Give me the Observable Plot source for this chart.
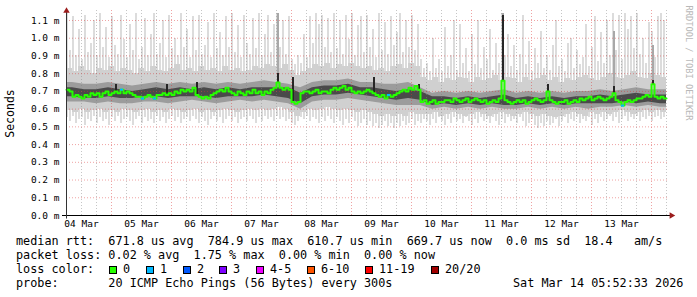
<!DOCTYPE html>
<html><head><meta charset="utf-8">
<script src="https://cdn.jsdelivr.net/npm/d3@7"></script>
<script src="https://cdn.jsdelivr.net/npm/@observablehq/plot@0.6"></script>
<style>body{margin:0;background:#fff} svg{display:block}</style>
</head><body><div id="chart"></div><script>
// ---- data (RTT in milliseconds) ----
const startTime = Date.UTC(2026, 2, 4, 6, 0, 0);   // left edge of graph
const spanMs = 10 * 24 * 3600 * 1000;               // 10 days shown
const yTicks = [0, 0.1, 0.2, 0.3, 0.4, 0.5, 0.6, 0.7, 0.8, 0.9, 1.0, 1.1];
const dayLabels = ["2026-03-04","2026-03-05","2026-03-06","2026-03-07","2026-03-08","2026-03-09","2026-03-10","2026-03-11","2026-03-12","2026-03-13"];

// median rtt, 200 samples
const medianMs = [
0.71,0.70,0.67,0.68,0.67,0.66,0.68,0.67,0.69,0.68,
0.69,0.67,0.69,0.70,0.68,0.69,0.70,0.69,0.71,0.69,
0.70,0.69,0.68,0.67,0.67,0.66,0.67,0.68,0.67,0.66,
0.68,0.68,0.69,0.68,0.69,0.68,0.70,0.69,0.71,0.70,
0.71,0.70,0.72,0.68,0.67,0.66,0.67,0.66,0.68,0.69,
0.70,0.71,0.70,0.72,0.70,0.69,0.68,0.70,0.69,0.68,
0.70,0.69,0.71,0.69,0.70,0.68,0.70,0.69,0.71,0.72,
0.75,0.72,0.71,0.72,0.71,0.64,0.63,0.64,0.69,0.70,
0.70,0.69,0.70,0.71,0.69,0.70,0.70,0.69,0.71,0.72,
0.71,0.72,0.73,0.71,0.72,0.70,0.69,0.70,0.69,0.70,
0.71,0.70,0.69,0.68,0.67,0.68,0.66,0.68,0.67,0.68,
0.69,0.70,0.71,0.70,0.72,0.71,0.73,0.71,0.64,0.65,
0.63,0.64,0.65,0.63,0.64,0.64,0.65,0.65,0.64,0.66,
0.65,0.64,0.65,0.66,0.64,0.65,0.66,0.65,0.64,0.65,
0.63,0.64,0.65,0.64,0.66,0.76,0.65,0.64,0.63,0.64,
0.65,0.64,0.65,0.63,0.64,0.65,0.66,0.65,0.64,0.65,
0.70,0.65,0.64,0.63,0.64,0.64,0.65,0.63,0.64,0.65,
0.64,0.66,0.65,0.66,0.67,0.65,0.66,0.67,0.66,0.65,
0.66,0.67,0.69,0.65,0.64,0.62,0.64,0.65,0.64,0.65,
0.66,0.66,0.67,0.68,0.67,0.74,0.67,0.66,0.67,0.66];

// slowest ping, 200 samples
const maxMs = [
1.14,0.93,1.12,0.90,1.05,0.88,1.13,0.92,0.97,1.10,
0.90,1.14,0.95,1.06,0.89,1.12,0.96,0.91,1.13,0.99,
0.89,1.08,0.93,1.14,0.88,0.95,1.11,0.90,1.02,1.14,
0.91,0.97,1.10,0.89,1.13,0.94,1.00,0.90,1.14,0.95,
1.05,0.89,1.12,0.93,1.13,0.91,0.96,1.09,0.89,1.14,
0.94,1.03,0.90,1.12,0.95,1.14,0.92,1.07,0.89,1.13,
0.97,0.91,1.11,0.94,1.14,0.90,1.02,1.13,0.92,1.08,
1.14,0.95,1.10,0.91,1.12,0.88,0.85,0.90,0.86,1.02,
0.89,1.12,0.97,1.14,1.08,1.13,0.95,1.11,0.92,1.14,
0.94,1.10,0.91,1.13,0.99,1.14,0.90,1.07,1.12,0.92,
1.13,0.95,1.05,0.89,1.14,0.93,1.09,0.91,1.12,0.96,
1.03,1.14,0.92,1.10,0.95,1.13,0.93,1.08,0.88,0.83,
0.86,0.81,1.00,0.83,0.88,0.81,1.06,0.84,0.90,1.10,
0.82,1.08,0.86,0.94,0.81,1.02,0.85,1.10,0.83,0.95,
0.88,1.05,0.82,0.97,0.86,1.14,0.90,1.02,0.84,0.96,
0.82,0.91,1.13,0.85,0.98,0.81,0.94,0.86,1.04,0.83,
0.90,0.82,0.96,1.10,0.84,0.88,0.81,0.97,1.00,0.83,
0.93,0.85,0.89,1.08,0.84,0.95,1.12,0.87,1.03,0.86,
1.10,0.90,1.14,0.93,1.13,0.88,1.14,1.05,1.12,0.94,
1.14,0.91,1.00,0.86,1.09,1.04,0.89,1.12,1.14,1.10];

// fastest ping, 200 samples
const minMs = [
0.55,0.53,0.56,0.52,0.54,0.55,0.51,0.54,0.53,0.56,
0.52,0.55,0.53,0.54,0.51,0.55,0.53,0.56,0.52,0.54,
0.55,0.53,0.51,0.54,0.56,0.52,0.55,0.53,0.54,0.52,
0.56,0.53,0.55,0.52,0.54,0.56,0.53,0.55,0.52,0.54,
0.55,0.53,0.56,0.54,0.52,0.55,0.53,0.51,0.54,0.56,
0.53,0.55,0.52,0.54,0.56,0.53,0.55,0.52,0.54,0.55,
0.53,0.56,0.54,0.52,0.55,0.53,0.56,0.54,0.55,0.53,
0.56,0.54,0.55,0.53,0.54,0.52,0.51,0.53,0.55,0.54,
0.56,0.53,0.55,0.54,0.52,0.55,0.53,0.56,0.54,0.52,
0.55,0.53,0.51,0.54,0.52,0.55,0.53,0.50,0.52,0.54,
0.51,0.53,0.50,0.52,0.49,0.51,0.53,0.50,0.52,0.49,
0.52,0.50,0.53,0.51,0.52,0.54,0.51,0.53,0.52,0.54,
0.53,0.51,0.54,0.52,0.55,0.53,0.51,0.54,0.52,0.55,
0.53,0.54,0.52,0.55,0.53,0.51,0.54,0.52,0.55,0.53,
0.54,0.52,0.55,0.53,0.51,0.54,0.52,0.55,0.53,0.54,
0.52,0.55,0.53,0.50,0.52,0.54,0.51,0.49,0.52,0.50,
0.53,0.51,0.52,0.54,0.50,0.53,0.55,0.52,0.54,0.53,
0.55,0.52,0.54,0.53,0.55,0.51,0.54,0.52,0.55,0.53,
0.54,0.56,0.53,0.55,0.52,0.54,0.56,0.53,0.55,0.54,
0.56,0.53,0.55,0.54,0.56,0.53,0.55,0.56,0.54,0.55];

// 90th / 10th percentile smoke, 100 samples
const p90Ms = [
0.83,0.81,0.84,0.82,0.80,0.83,0.82,0.84,0.81,0.83,
0.82,0.80,0.83,0.81,0.84,0.82,0.81,0.83,0.85,0.82,
0.83,0.81,0.84,0.82,0.83,0.81,0.84,0.82,0.83,0.81,
0.82,0.84,0.83,0.85,0.84,0.83,0.85,0.82,0.79,0.81,
0.83,0.85,0.84,0.86,0.83,0.85,0.84,0.86,0.84,0.83,
0.84,0.82,0.83,0.81,0.84,0.85,0.83,0.86,0.84,0.78,
0.76,0.78,0.75,0.77,0.76,0.78,0.77,0.75,0.78,0.76,
0.77,0.79,0.76,0.78,0.77,0.75,0.78,0.76,0.77,0.79,
0.76,0.78,0.75,0.77,0.76,0.78,0.79,0.77,0.76,0.78,
0.80,0.78,0.77,0.79,0.81,0.78,0.77,0.80,0.79,0.78];
const p10Ms = [
0.59,0.58,0.60,0.58,0.59,0.60,0.58,0.59,0.58,0.60,
0.59,0.58,0.59,0.60,0.58,0.59,0.58,0.60,0.59,0.58,
0.59,0.60,0.58,0.59,0.58,0.59,0.60,0.59,0.58,0.59,
0.60,0.59,0.60,0.59,0.60,0.61,0.60,0.58,0.56,0.58,
0.60,0.59,0.60,0.61,0.60,0.59,0.60,0.59,0.58,0.59,
0.58,0.57,0.56,0.57,0.56,0.57,0.56,0.58,0.57,0.57,
0.57,0.58,0.56,0.57,0.58,0.57,0.56,0.57,0.58,0.57,
0.56,0.57,0.58,0.57,0.56,0.57,0.58,0.57,0.56,0.57,
0.56,0.55,0.56,0.57,0.58,0.57,0.56,0.58,0.57,0.58,
0.57,0.58,0.59,0.58,0.57,0.58,0.59,0.58,0.59,0.58];

// 75th / 25th and 60th / 40th percentile smoke, 50 samples
const p75Ms = [
0.75,0.74,0.74,0.75,0.74,0.73,0.74,0.75,0.74,0.75,
0.74,0.75,0.74,0.75,0.74,0.75,0.76,0.75,0.74,0.72,
0.75,0.76,0.76,0.77,0.75,0.75,0.74,0.74,0.75,0.72,
0.69,0.70,0.69,0.70,0.69,0.70,0.71,0.69,0.70,0.69,
0.70,0.69,0.70,0.70,0.71,0.70,0.71,0.72,0.71,0.71];
const p25Ms = [
0.64,0.64,0.63,0.64,0.63,0.63,0.64,0.64,0.63,0.64,
0.65,0.64,0.63,0.64,0.65,0.64,0.65,0.64,0.63,0.60,
0.64,0.65,0.65,0.66,0.65,0.64,0.63,0.62,0.62,0.62,
0.60,0.61,0.60,0.61,0.60,0.61,0.60,0.60,0.61,0.60,
0.61,0.60,0.61,0.60,0.61,0.61,0.62,0.61,0.62,0.61];
const p60Ms = [
0.72,0.71,0.71,0.72,0.71,0.70,0.71,0.72,0.71,0.72,
0.71,0.72,0.71,0.72,0.71,0.72,0.72,0.72,0.72,0.69,
0.72,0.73,0.73,0.74,0.72,0.72,0.71,0.70,0.71,0.70,
0.67,0.67,0.66,0.67,0.66,0.67,0.68,0.66,0.67,0.66,
0.67,0.66,0.67,0.67,0.68,0.67,0.68,0.69,0.68,0.68];
const p40Ms = [
0.67,0.66,0.66,0.67,0.66,0.66,0.67,0.67,0.66,0.67,
0.67,0.67,0.66,0.67,0.67,0.67,0.68,0.67,0.66,0.63,
0.67,0.68,0.68,0.69,0.68,0.67,0.66,0.65,0.66,0.65,
0.62,0.63,0.62,0.63,0.62,0.63,0.62,0.62,0.63,0.62,
0.63,0.62,0.63,0.63,0.63,0.63,0.64,0.63,0.64,0.63];

// samples (index into the 200-sample grid) where most pings spiked
const darkSpikeIdx = [16, 33, 43, 70, 75, 102, 117, 145, 160, 182, 195];
const darkSpikeTop = [0.74, 0.74, 0.75, 0.80, 0.78, 0.78, 0.74, 1.13, 0.74, 0.73, 0.76];
const midSpikeIdx = [70, 145, 182, 195];
const midSpikeTop = [1.14, 1.14, 1.04, 0.96];

// samples with packet loss (count of lost pings)
const lossIdx = [18, 25, 29, 107, 185];
const lossCount = [1, 1, 1, 1, 1];

// legend
const lossLabels = ["0", "1", "2", "3", "4-5", "6-10", "11-19", "20/20"];
const lossColors = ["#26ff00", "#00b8ff", "#0059ff", "#7e00ff", "#ee00ff", "#ff5500", "#ff0000", "#a10000"];
const rttLine = "median rtt:  671.8 us avg  784.9 us max  610.7 us min  669.7 us now  0.0 ms sd  18.4   am/s";
const lossLine = "packet loss: 0.02 % avg  1.75 % max  0.00 % min  0.00 % now";
const lossTitle = "loss color:";
const probeLine = "probe:       20 ICMP Echo Pings (56 Bytes) every 300s";
const dateText = "Sat Mar 14 05:52:33 2026";
const axisTitle = "Seconds";
const watermark = "RRDTOOL / TOBI OETIKER";

// ---- build ----
const W = 697, H = 232, ML = 66, MR = 31, MT = 10, MB = 17;
const yTop = 1.1564;
const pxToY = py => (H - MB - py) / (H - MB - MT) * yTop;
const tAt = (i, n) => new Date(startTime + i * spanMs / n);
function band(lo, hi) {
  const n = lo.length;
  return lo.map((v, i) => ({x1: tAt(i, n), x2: tAt(i + 1, n), y1: v, y2: hi[i]}));
}
function bandPts(lo, hi) {   // centre points, plus both edges, for smooth areas
  const n = lo.length;
  const pts = lo.map((v, i) => ({t: tAt(i + 0.5, n), y1: v, y2: hi[i]}));
  return [{t: tAt(0, n), y1: lo[0], y2: hi[0]}, ...pts, {t: tAt(n, n), y1: lo[n - 1], y2: hi[n - 1]}];
}
const nMed = medianMs.length;
const medPts = medianMs.map((v, i) => ({t: tAt(i, nMed), v}));
medPts.push({t: tAt(nMed, nMed), v: medianMs[nMed - 1]});
const dark = darkSpikeIdx.map((k, j) => ({x1: tAt(k, nMed), x2: tAt(k + 1, nMed), y1: medianMs[k], y2: darkSpikeTop[j]}));
const mid = midSpikeIdx.map((k, j) => ({x1: tAt(k, nMed), x2: tAt(k + 1, nMed), y1: medianMs[k], y2: midSpikeTop[j]}));
const loss = lossIdx.map((k, j) => ({x1: tAt(k, nMed), x2: tAt(k + 1, nMed), y: medianMs[k], c: lossColors[Math.min(lossCount[j], 3)]}));

const pxToTime = px => new Date(startTime + (px - ML) / (W - ML - MR) * spanMs);
const dayStarts = d3.utcDay.range(new Date(startTime), new Date(startTime + spanMs)).filter(d => +d > startTime);
const sixHours = d3.utcHour.every(6).range(new Date(startTime + 1), new Date(startTime + spanMs + 1)).filter(d => d.getUTCHours() !== 0);
const labelTimes = dayLabels.map(s => new Date(s + "T12:00:00Z"));
const fmt = d3.utcFormat("%d %b");

const chart = Plot.plot({
  width: W, height: H,
  marginLeft: ML, marginRight: MR, marginTop: MT, marginBottom: MB,
  style: {fontFamily: "DejaVu Sans Mono", fontSize: "9.5px", background: "#fff", overflow: "visible"},
  x: {type: "utc", domain: [new Date(startTime), new Date(startTime + spanMs)], axis: null},
  y: {domain: [0, yTop], axis: null},
  marks: [
    Plot.rect(band(minMs, maxMs), {x1: "x1", x2: "x2", y1: "y1", y2: "y2", fill: "#dcdcdc", insetRight: 1, shapeRendering: "crispEdges", clip: true}),
    Plot.rect(band(p10Ms, p90Ms), {x1: "x1", x2: "x2", y1: "y1", y2: "y2", fill: "#d0d0d0", shapeRendering: "crispEdges"}),
    Plot.rect(mid, {x1: "x1", x2: "x2", y1: "y1", y2: "y2", fill: "#a8a8a8", insetLeft: 0.5, insetRight: 0.5, shapeRendering: "crispEdges", clip: true}),
    Plot.areaY(bandPts(p10Ms, p90Ms).map(d => ({t: d.t, y1: d.y1 + (d.y2 - d.y1) * 0, y2: d.y2})), {x: "t", y1: "y1", y2: "y2", fill: "#bdbdbd", fillOpacity: 0.0}),
    Plot.areaY(bandPts(p25Ms, p75Ms), {x: "t", y1: "y1", y2: "y2", curve: "linear", fill: "#9c9c9c"}),
    Plot.areaY(bandPts(p40Ms, p60Ms), {x: "t", y1: "y1", y2: "y2", curve: "linear", fill: "#4a4a4a"}),
    Plot.rect(dark, {x1: "x1", x2: "x2", y1: "y1", y2: "y2", fill: "#262626", insetLeft: 0.5, insetRight: 0.5, shapeRendering: "crispEdges", clip: true}),
    // grid
    Plot.ruleX(sixHours, {y1: 0, y2: yTop, stroke: "rgba(128,128,128,0.45)", strokeDasharray: "1,2"}),
    Plot.ruleX(dayStarts, {y1: 0, y2: yTop, stroke: "rgba(220,50,50,0.45)", strokeDasharray: "1,2"}),
    Plot.ruleY(yTicks.filter(d => d > 0), {x1: new Date(startTime), x2: pxToTime(668), stroke: "rgba(220,50,50,0.45)", strokeDasharray: "1,2"}),
    // median
    Plot.line(medPts, {x: "t", y: "v", curve: "step-after", stroke: lossColors[0], strokeWidth: 2}),
    Plot.ruleY(loss, {x1: "x1", x2: "x2", y: "y", stroke: "c", strokeWidth: 2}),
    // axes
    Plot.ruleY([0], {x1: pxToTime(62), x2: pxToTime(670), stroke: "#000"}),
    Plot.ruleX([new Date(startTime)], {y1: -0.02, y2: pxToY(12), stroke: "#333"}),
    Plot.dot([0], {x: () => new Date(startTime), y: () => pxToY(10.5), symbol: "triangle", r: 2.4, fill: "#9b1c1c", stroke: "none"}),
    Plot.dot([0], {x: () => pxToTime(671), y: () => 0, symbol: "triangle", r: 2.4, rotate: 90, fill: "#9b1c1c", stroke: "none"}),
    Plot.axisY(yTicks, {tickFormat: d => d.toFixed(1) + " m", tickSize: 0, tickPadding: 7, fill: "#000"}),
    Plot.axisX(labelTimes, {tickFormat: fmt, tickSize: 0, tickPadding: 5, fill: "#000"}),
    Plot.text([axisTitle], {text: d => d, x: () => pxToTime(10), y: () => pxToY(113), rotate: -90, textAnchor: "middle", lineAnchor: "middle", fontSize: 11.5, fill: "#000"}),
    Plot.text([watermark], {text: d => d, x: () => pxToTime(688), y: () => pxToY(5), rotate: 90, textAnchor: "start", lineAnchor: "middle", fontSize: 8.7, fill: "#b8b8b8"})
  ]
});
document.getElementById("chart").appendChild(chart);

// legend below the svg
const leg = d3.create("svg").attr("width", W).attr("height", 65)
  .style("font-family", "DejaVu Sans Mono").style("font-size", "11.8px");
const base = H;
const addLine = (txt, x, y) => leg.append("text").attr("x", x).attr("y", y - base).style("white-space", "pre").attr("fill", "#000").text(txt);
addLine(rttLine, 16, 245.3);
addLine(lossLine, 16, 259.2);
addLine(lossTitle, 16, 273.1);
addLine(probeLine, 16, 287);
addLine(dateText, 513, 287);
const boxX = [109, 146, 183, 219, 256, 307, 365, 431];
lossLabels.forEach((lab, i) => {
  leg.append("rect").attr("x", boxX[i] + 0.5).attr("y", 266.5 - base).attr("width", 7).attr("height", 7)
    .attr("fill", lossColors[i]).attr("stroke", "#000").attr("stroke-width", 1);
  addLine(lab, boxX[i] + 14, 273.1);
});
document.getElementById("chart").appendChild(leg.node());
</script></body></html>
